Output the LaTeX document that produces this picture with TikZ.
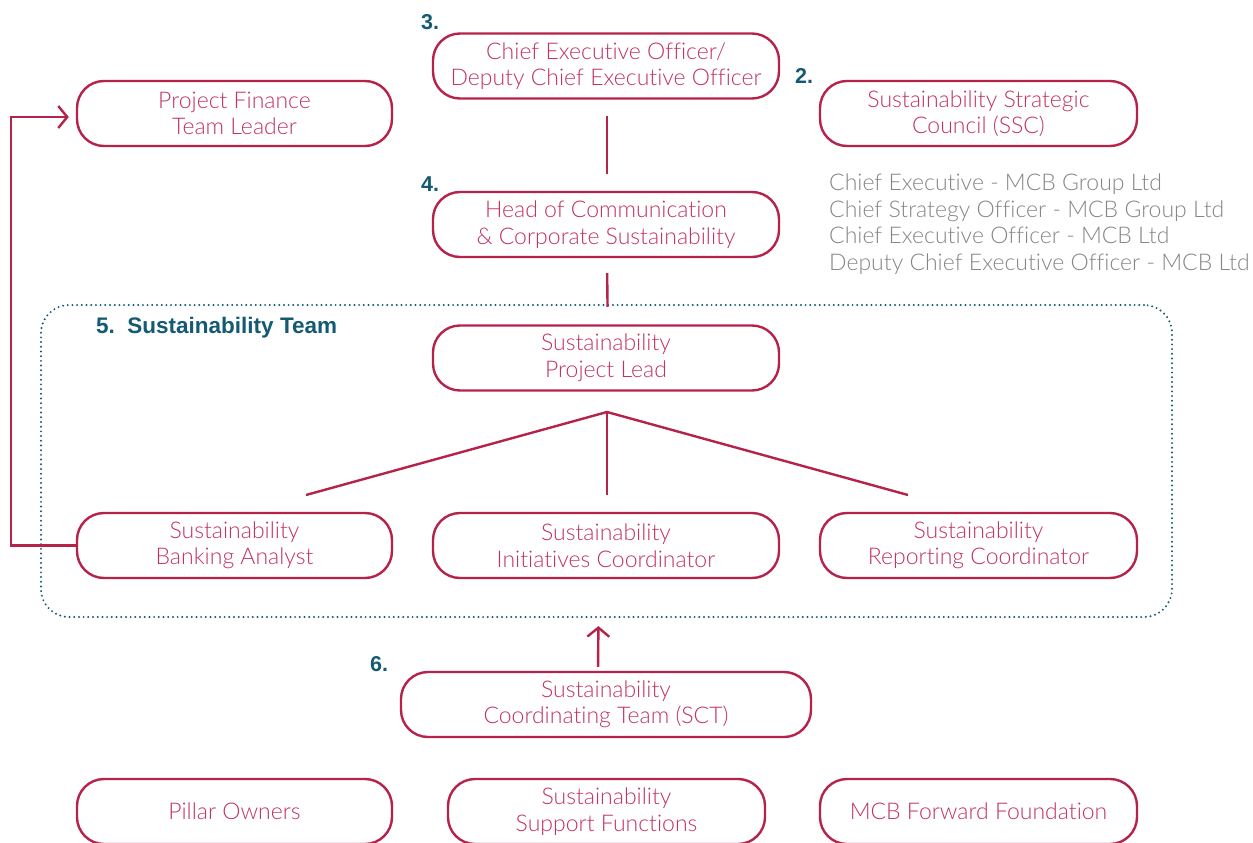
\documentclass[tikz,border=0pt]{standalone}
\usepackage{fontspec}
\usetikzlibrary{arrows.meta}
\newfontfamily\lightfont[Ligatures=NoCommon]{Lato Light}
\newfontfamily\numfont{Liberation Sans}
\definecolor{crimson}{HTML}{B5224A}
\definecolor{boxtext}{HTML}{C2325E}
\definecolor{teal}{HTML}{155A73}
\definecolor{greytext}{HTML}{858585}
\begin{document}
\begin{tikzpicture}[x=1pt,y=-1pt,
  box/.style={draw=crimson, line width=2.4pt, rounded corners=27pt,
    minimum height=65pt, inner sep=0pt, align=center, text=boxtext,
    font=\lightfont\fontsize{23}{26.5}\selectfont},
  wbox/.style={box, minimum width=315pt},
  link/.style={draw=crimson, line width=2.4pt},
  arr/.style={link, -{Straight Barb[length=9pt,width=22pt,line width=2.4pt]}},
  num/.style={text=teal, font=\numfont\bfseries\fontsize{21.5}{24}\selectfont, inner sep=0pt, anchor=west},
  note/.style={text=greytext, align=left, anchor=west, inner sep=0pt,
    font=\lightfont\fontsize{23}{26.5}\selectfont},
  teambox/.style={draw=teal, line width=2.2pt, dash pattern=on 0pt off 4.7pt,
    line cap=round, rounded corners=28pt, inner sep=0pt}]
\useasboundingbox (0,0) rectangle (1253,843);

% sustainability team frame
\node[teambox, minimum width=1131pt, minimum height=312pt] (team) at (606.5,461) {};
\node[num, font=\numfont\bfseries\fontsize{22.5}{26}\selectfont] (teamlbl) at (96,328) {5.\ \ Sustainability Team};

% top of the hierarchy
\node[box, minimum width=346pt] (ceo) at (606,66) {Chief Executive Officer/\\Deputy Chief Executive Officer};
\node[wbox] (pf) at (234.5,113.5) {Project Finance\\Team Leader};
\node[wbox, minimum width=317pt] (ssc) at (978.5,113.5) {Sustainability Strategic\\Council (SSC)};
\node[box, minimum width=346pt] (head) at (606,224.5) {Head of Communication\\\& Corporate Sustainability};
\node[note] (members) at (829,224) {Chief Executive - MCB Group Ltd\\Chief Strategy Officer - MCB Group Ltd\\Chief Executive Officer - MCB Ltd\\Deputy Chief Executive Officer - MCB Ltd};

% team members
\node[box, minimum width=346pt] (spl) at (606,358) {Sustainability\\Project Lead};
\node[wbox] (sba) at (234.5,545.5) {Sustainability\\Banking Analyst};
\node[box, minimum width=346pt] (sic) at (606,545.5) {Sustainability\\Initiatives Coordinator};
\node[wbox, minimum width=317pt] (src) at (978.5,545.5) {Sustainability\\Reporting Coordinator};

% coordinating team and bottom row
\node[box, minimum width=410pt] (sct) at (606,704.5) {Sustainability\\Coordinating Team (SCT)};
\node[wbox] (pillar) at (234.5,811.5) {Pillar Owners};
\node[wbox, minimum width=317pt] (ssf) at (606.5,811.5) {Sustainability\\Support Functions};
\node[wbox, minimum width=317pt] (mff) at (978.5,811.5) {MCB Forward Foundation};

% step numbers
\node[num] (n3) at (421,22) {3.};
\node[num] (n2) at (795,76) {2.};
\node[num] (n4) at (421,184) {4.};
\node[num] (n6) at (370,664) {6.};

% reporting lines
\draw[link, shorten <=16pt, shorten >=17pt] ([xshift=1pt]ceo.south) -- ([xshift=1pt]head.north);
\draw[link, shorten <=15pt, shorten >=-3pt] ([xshift=1pt]head.south) -- ([xshift=1pt]team.north);

\coordinate (fork) at (607,412);
\coordinate (tl) at (306,495);
\coordinate (tm) at (607,495);
\coordinate (tr) at (908,495);
\draw[link] (tl) -- (fork) -- (tr);
\draw[link] (fork) -- (tm);

\draw[arr, shorten <=4pt, shorten >=8pt] ([xshift=-8pt]sct.north) -- ([xshift=-8pt]team.south);
\draw[arr, shorten >=7pt] (sba.west) -- ++(-65,0) |- ([yshift=-3.5pt]pf.west);
\end{tikzpicture}
\end{document}
